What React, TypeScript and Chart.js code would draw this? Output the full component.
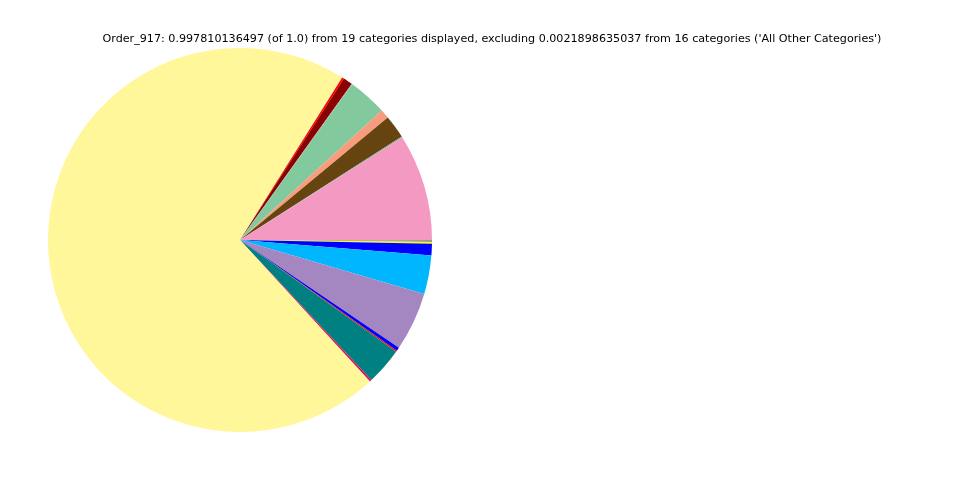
import React, { useEffect, useRef } from "react";
import { Chart, registerables } from "chart.js";

Chart.register(...registerables);

// Counter-clockwise from 3 o'clock (matplotlib order)
const categories = [
  "Cat_01", "Cat_02", "Cat_03", "Cat_04", "Cat_05", "Cat_06", "Cat_07", "Cat_08", "Cat_09", "Cat_10",
  "Cat_11", "Cat_12", "Cat_13", "Cat_14", "Cat_15", "Cat_16", "Cat_17", "Cat_18", "Cat_19",
];
const values = [
  0.0897, 0.0008, 0.0197, 0.0075, 0.0328, 0.0006, 0.0078, 0.0017, 0.7075, 0.0017,
  0.0311, 0.0011, 0.003, 0.0494, 0.0325, 0.0097, 0.0016, 0.0008, 0.0008,
];
const colors = [
  "#F49AC2", "#7FA8A0", "#664410", "#F99B7D", "#82CA9D", "#999999", "#8B0000", "#FF0000", "#FFF799", "#E0115F",
  "#008080", "#FF0000", "#0000FF", "#A486C0", "#00B7FF", "#0000FF", "#FFFF00", "#A0A070", "#999999",
];
const titleText =
  "Order_917: 0.997810136497 (of 1.0) from 19 categories displayed, excluding 0.0021898635037 from 16 categories ('All Other Categories')";

const titlePlugin = {
  id: "customTitle",
  afterDraw(chart: any) {
    const ctx = chart.ctx;
    ctx.save();
    ctx.font = "11.15px 'DejaVu Sans'";
    ctx.fillStyle = "#000";
    ctx.textAlign = "center";
    ctx.textBaseline = "middle";
    ctx.fillText(titleText, 492, 39.5);
    ctx.restore();
  },
};

export default function App() {
  const ref = useRef<HTMLCanvasElement | null>(null);
  useEffect(() => {
    if (!ref.current) return;
    const chart = new Chart(ref.current, {
      type: "pie",
      data: {
        labels: [...categories].reverse(),
        datasets: [
          {
            data: [...values].reverse(),
            backgroundColor: [...colors].reverse(),
            borderWidth: 0,
          },
        ],
      },
      options: {
        animation: false,
        responsive: false,
        rotation: 90,
        layout: { padding: { top: 48, bottom: 48, left: 48, right: 528 } },
        plugins: {
          legend: { display: false },
          tooltip: { enabled: false },
          title: { display: false },
        },
      },
      plugins: [titlePlugin],
    });
    return () => chart.destroy();
  }, []);
  return (
    <div style={{ position: "fixed", left: 0, top: 0, width: 960, height: 480, background: "#fff" }}>
      <canvas ref={ref} width={960} height={480} />
    </div>
  );
}
